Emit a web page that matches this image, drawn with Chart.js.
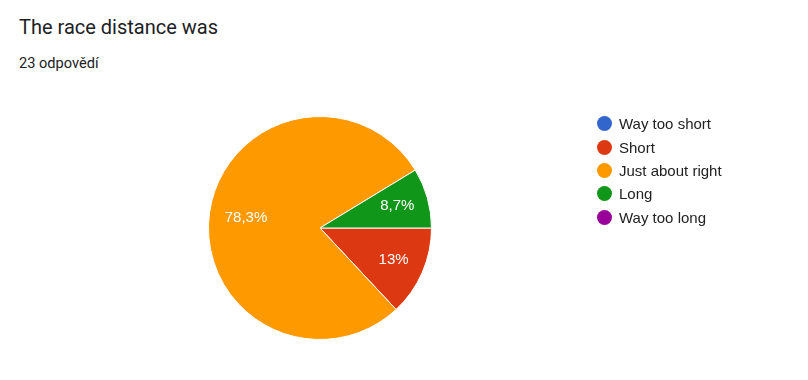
<!DOCTYPE html>
<html>
<head>
<meta charset="utf-8">
<script src="https://cdn.jsdelivr.net/npm/chart.js@4"></script>
<style>
    html, body { margin: 0; padding: 0; background: #fff; }
    body { width: 808px; height: 380px; position: relative; overflow: hidden; }
    #title {
        position: absolute; left: 19px; top: 17px;
        font: 20px/20px Roboto, Arial, sans-serif; color: #202124; white-space: nowrap;
    }
    #subtitle {
        position: absolute; left: 19px; top: 55.5px;
        font: 14.6px/14.6px Roboto, Arial, sans-serif; color: #202124; white-space: nowrap;
    }
    #chartWrap { position: absolute; left: 0; top: 0; width: 808px; height: 380px; }
    #legend {
        position: absolute; left: 597px; top: 112px; margin: 0; padding: 0; list-style: none;
        font: 15px "Liberation Sans", Arial, sans-serif; color: #222;
    }
    #legend li { height: 23.4px; display: flex; align-items: center; white-space: nowrap; }
    #legend .dot { width: 15px; height: 15px; border-radius: 50%; margin-right: 7px; flex: none; }
</style>
</head>
<body>
<div id="title">The race distance was</div>
<div id="subtitle">23 odpovědí</div>
<div id="chartWrap"><canvas id="pie"></canvas></div>
<ul id="legend"></ul>
<script>
// answer categories and response counts
const categories = ['Way too short', 'Short', 'Just about right', 'Long', 'Way too long'];
const responses = [0, 3, 18, 2, 0];
const colors = ['#3366cc', '#dc3912', '#ff9900', '#109618', '#990099'];

const total = responses.reduce((a, b) => a + b, 0);

function pctLabel(v) {
    const p = (v / total * 100).toFixed(1).replace(/\.0$/, '');
    return p.replace('.', ',') + '%';
}

// Draws the percentage inside each slice
const sliceLabels = {
    id: 'sliceLabels',
    afterDatasetsDraw(chart) {
        const ctx = chart.ctx;
        const meta = chart.getDatasetMeta(0);
        ctx.save();
        ctx.fillStyle = '#ffffff';
        ctx.font = '15px "Liberation Sans", Arial, sans-serif';
        ctx.textAlign = 'center';
        ctx.textBaseline = 'middle';
        meta.data.forEach((arc, i) => {
            const v = responses[i];
            if (!v) return;
            const { x, y, startAngle, endAngle, outerRadius } = arc.getProps(['x', 'y', 'startAngle', 'endAngle', 'outerRadius'], true);
            const mid = (startAngle + endAngle) / 2;
            // big slices sit a little closer to the centre
            const r = outerRadius * (endAngle - startAngle > Math.PI ? 0.67 : 0.72);
            ctx.fillText(pctLabel(v), x + Math.cos(mid) * r, y + Math.sin(mid) * r);
        });
        ctx.restore();
    }
};

const chart = new Chart(document.getElementById('pie'), {
    type: 'pie',
    data: {
        labels: categories,
        datasets: [{
            data: responses,
            backgroundColor: colors,
            borderColor: '#ffffff',
            borderWidth: 1
        }]
    },
    options: {
        responsive: true,
        maintainAspectRatio: false,
        animation: false,
        rotation: 90,
        layout: { padding: { left: 208, right: 376, top: 116, bottom: 40 } },
        plugins: {
            legend: { display: false },
            tooltip: { enabled: false }
        }
    },
    plugins: [sliceLabels]
});

// HTML legend built from the same arrays
const legend = document.getElementById('legend');
categories.forEach((name, i) => {
    const li = document.createElement('li');
    const dot = document.createElement('span');
    dot.className = 'dot';
    dot.style.background = colors[i];
    li.appendChild(dot);
    li.appendChild(document.createTextNode(name));
    legend.appendChild(li);
});
</script>
</body>
</html>
